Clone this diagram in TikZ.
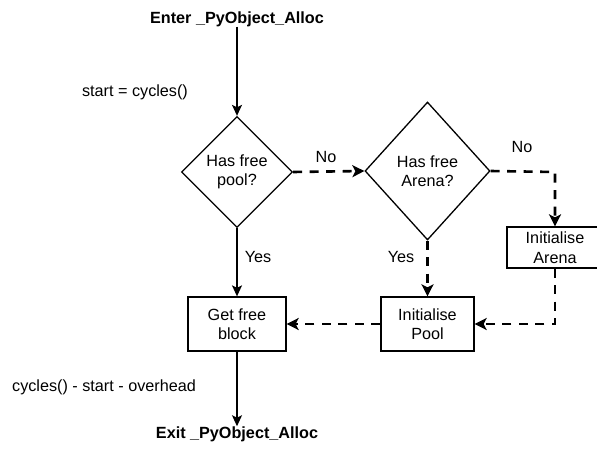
\documentclass[tikz,border=0pt]{standalone}
\usepackage{fontspec}
\setmainfont{Liberation Sans}
\usetikzlibrary{shapes.geometric,arrows.meta}
\begin{document}
\begin{tikzpicture}[x=1pt,y=-1pt,
  font=\fontsize{16.2}{19.5}\selectfont,
  every node/.style={inner sep=0pt},
  decision/.style={draw,shape=diamond,line width=1.3pt,align=center},
  process/.style={draw,rectangle,line width=1.3pt,align=center},
  title/.style={font=\fontsize{16.2}{19.5}\selectfont\bfseries},
  flow/.style={line width=1.4pt,-{Stealth[length=11pt,width=10pt,inset=2.5pt]}},
  alt/.style={line width=2.6pt,dash pattern=on 9pt off 7.5pt,
    -{Stealth[length=12pt,width=12pt,inset=3pt]}},
  lbl/.style={}]
\useasboundingbox (0,0) rectangle (597,460);

% entry and exit
\node[title] (enter) at (237,19) {Enter \_PyObject\_Alloc};
\node[title] (exit) at (237,434) {Exit \_PyObject\_Alloc};

% decisions
\node[decision,minimum width=111pt,minimum height=111pt] (pool) at (237,172)
  {Has free\\pool?};
\node[decision,minimum width=125pt,minimum height=138pt] (arena) at (427.5,171)
  {Has free\\Arena?};

% processes
\node[process,minimum width=98pt,minimum height=54pt] (block) at (237,324)
  {Get free\\block};
\node[process,minimum width=93pt,minimum height=54pt] (initpool) at (427.5,324)
  {Initialise\\Pool};
\node[process,minimum width=96pt,minimum height=41pt] (initarena) at (555,247.5)
  {Initialise\\Arena};

% corner points of the dashed paths
\coordinate (c1) at (555,172);
\coordinate (c2) at (555,324);

% connectors
\draw[flow] (enter) -- (pool.north);
\draw[flow] (pool.south) -- (block.north);
\draw[alt] (pool.east) -- (arena.west);
\draw[alt] (arena.south) -- (initpool.north);
\draw[alt] (arena.east) -- (c1) -- (initarena.north);
\draw[alt] (initarena.south) -- (c2) -- (initpool.east);
\draw[alt] (initpool.west) -- (block.east);
\draw[flow] (block.south) -- (exit.north);

% labels
\node[lbl] (lno1) at (326,157) {No};
\node[lbl] (lno2) at (522,147) {No};
\node[lbl] (lyes1) at (258,257) {Yes};
\node[lbl] (lyes2) at (401,257) {Yes};
\node[lbl] (lstart) at (135,92) {start = cycles()};
\node[lbl] (lend) at (104,387) {cycles() - start - overhead};
\end{tikzpicture}
\end{document}
